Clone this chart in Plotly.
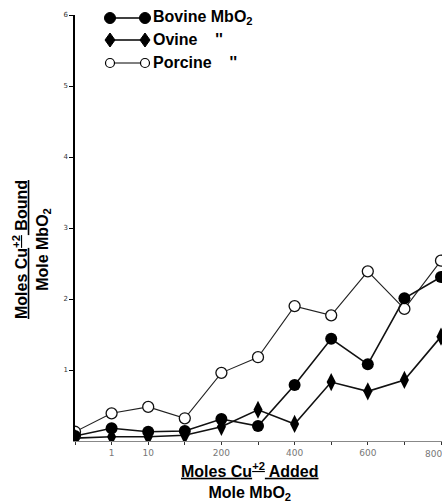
import plotly.graph_objects as go

# x positions are evenly spaced categories (index 0..10)
x_index = list(range(11))
x_label_pos = [1, 2, 4, 6, 8]
x_label_text = ["1", "10", "200", "400", "600"]
last_tick_label = "800"
y_tickvals = [1, 2, 3, 4, 5, 6]

bovine = [0.07, 0.18, 0.13, 0.14, 0.31, 0.21, 0.79, 1.44, 1.08, 2.01, 2.31]
ovine = [0.04, 0.06, 0.06, 0.08, 0.20, 0.44, 0.24, 0.83, 0.70, 0.86, 1.47]
porcine = [0.13, 0.39, 0.48, 0.32, 0.96, 1.18, 1.90, 1.77, 2.39, 1.86, 2.54]

fig = go.Figure()
fig.add_trace(go.Scatter(x=x_index, y=porcine, mode="lines+markers", name="Porcine",
                         line=dict(color="#222", width=1.1),
                         marker=dict(symbol="circle", size=11, color="white",
                                     line=dict(color="#111", width=1.3))))
fig.add_trace(go.Scatter(x=x_index, y=bovine, mode="lines+markers", name="Bovine",
                         line=dict(color="#111", width=1.6),
                         marker=dict(symbol="circle", size=12, color="black")))
fig.add_trace(go.Scatter(x=x_index, y=ovine, mode="lines+markers", name="Ovine",
                         line=dict(color="#111", width=1.6),
                         marker=dict(symbol="diamond-tall", size=13, color="black")))

W, H = 442, 502
L, R, T, B = 75, 0, 15, 61
pw, ph = W - L - R, H - T - B

def px(x):
    return (x - L) / pw

def py(y):
    return (H - B - y) / ph

shapes = []
annotations = []
legend_rows = [("Bovine MbO<sub>2</sub>", 18, "filled"),
               ("Ovine    ''", 40, "diamond"),
               ("Porcine    ''", 63, "open")]
for label, yy, kind in legend_rows:
    shapes.append(dict(type="line", xref="paper", yref="paper",
                       x0=px(110), x1=px(145), y0=py(yy), y1=py(yy),
                       line=dict(color="black", width=1.5 if kind != "open" else 1)))
    for cx in (110, 145):
        if kind == "filled":
            shapes.append(dict(type="circle", xref="paper", yref="paper",
                               x0=px(cx - 5.5), x1=px(cx + 5.5), y0=py(yy + 5.5), y1=py(yy - 5.5),
                               fillcolor="black", line=dict(color="black", width=1)))
        elif kind == "open":
            shapes.append(dict(type="circle", xref="paper", yref="paper",
                               x0=px(cx - 4.5), x1=px(cx + 4.5), y0=py(yy + 4.5), y1=py(yy - 4.5),
                               fillcolor="white", line=dict(color="black", width=1.2)))
        else:
            path = "M {} {} L {} {} L {} {} L {} {} Z".format(
                px(cx), py(yy - 7), px(cx + 5), py(yy), px(cx), py(yy + 7), px(cx - 5), py(yy))
            shapes.append(dict(type="path", xref="paper", yref="paper", path=path,
                               fillcolor="black", line=dict(color="black", width=1)))
    annotations.append(dict(text="<b>" + label + "</b>", xref="paper", yref="paper",
                            x=px(151), y=py(yy), xanchor="left", yanchor="middle",
                            showarrow=False, font=dict(size=16, color="black",
                                                       family="Liberation Sans")))

# last x tick label, right-aligned so it stays inside the picture
annotations.append(dict(text=last_tick_label, xref="x", yref="paper", x=x_index[-1],
                        y=py(447), xanchor="right", yanchor="top", xshift=3, showarrow=False,
                        font=dict(size=9, color="#777", family="DejaVu Sans")))

annotations.append(dict(text="<b><u>Moles Cu<sup>+2</sup> Bound</u></b><br><b>Mole MbO<sub>2</sub></b>",
                        xref="paper", yref="paper", x=px(31), y=py(250),
                        xanchor="center", yanchor="middle", textangle=-90, showarrow=False,
                        font=dict(size=16, color="black", family="Liberation Sans")))
annotations.append(dict(text="<b><u>Moles Cu<sup>+2</sup> Added</u></b><br><b>Mole MbO<sub>2</sub></b>",
                        xref="paper", yref="paper", x=px(250), y=py(481),
                        xanchor="center", yanchor="middle", showarrow=False,
                        font=dict(size=16, color="black", family="Liberation Sans")))

fig.update_layout(
    width=W, height=H, margin=dict(l=L, r=R, t=T, b=B, autoexpand=False),
    paper_bgcolor="white", plot_bgcolor="white",
    showlegend=False, shapes=shapes, annotations=annotations,
    xaxis=dict(range=[0, pw / 36.6], tickvals=x_label_pos, ticktext=x_label_text,
               automargin=False,
               showgrid=False, zeroline=False, showline=True, linecolor="#888", linewidth=1,
               ticks="outside", ticklen=3, tickcolor="#333",
               minor=dict(tick0=0, dtick=1, ticks="outside", ticklen=3, tickcolor="#333",
                          showgrid=False),
               tickfont=dict(size=9, color="#777", family="DejaVu Sans")),
    yaxis=dict(range=[0, 6], tickvals=y_tickvals, showgrid=False, zeroline=False,
               automargin=False,
               showline=True, linecolor="black", linewidth=1.5,
               ticks="outside", ticklen=4, tickcolor="black",
               tickfont=dict(size=7, color="#333", family="DejaVu Sans")),
)

fig.write_html("out.html")
